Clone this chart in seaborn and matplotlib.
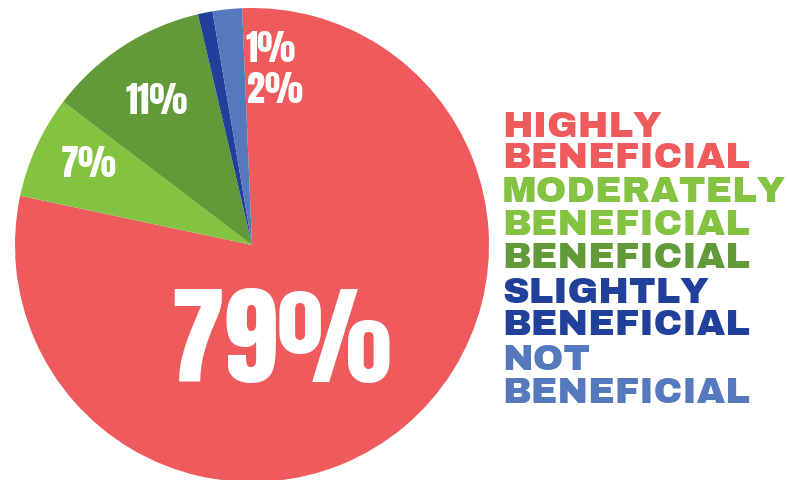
import matplotlib
matplotlib.use("Agg")
import matplotlib.pyplot as plt
import seaborn as sns

categories = ["HIGHLY\nBENEFICIAL", "MODERATELY\nBENEFICIAL", "BENEFICIAL",
              "SLIGHTLY\nBENEFICIAL", "NOT\nBENEFICIAL"]
values = [79, 7, 11, 1, 2]
labels = ["79%", "7%", "11%", "1%", "2%"]
colors = ["#EF5A5C", "#84C341", "#629A39", "#21409A", "#5579BC"]

sns.set_theme(style="white")
palette = sns.color_palette(colors)

W, H = 787, 480
fig = plt.figure(figsize=(W / 100, H / 100), dpi=100)
fig.patch.set_facecolor("white")

cx, cy, r = 252, 245, 237
ax = fig.add_axes([(cx - r) / W, (H - cy - r) / H, 2 * r / W, 2 * r / H])
ax.pie(values, colors=palette, startangle=92.4, counterclock=False,
       radius=1, wedgeprops=dict(linewidth=0))
ax.set_xlim(-1, 1)
ax.set_ylim(-1, 1)
ax.set_aspect("equal")
ax.axis("off")

num_font = ["Anton", "DejaVu Sans"]
# percentage labels: (x center px, baseline px, size)
pos = [(281, 382, 78), (89, 177, 26), (157, 114, 26), (271, 62, 26), (275, 103, 26)]
for lab, (x, y, s) in zip(labels, pos):
    fig.text(x / W, 1 - y / H, lab, ha="center", va="baseline", color="white",
             fontsize=s, family=num_font)

# legend-like text
lines = []
for cat, col in zip(categories, colors):
    for part in cat.split("\n"):
        lines.append((part, col))
baselines = [137, 168, 202, 235, 268, 303, 335, 370, 403]
for (txt, col), b in zip(lines, baselines):
    fig.text(502 / W, 1 - b / H, txt, ha="left", va="baseline", color=col,
             fontsize=26.5, family=["Archivo Black", "DejaVu Sans"])

fig.savefig("out.png", dpi=100)
